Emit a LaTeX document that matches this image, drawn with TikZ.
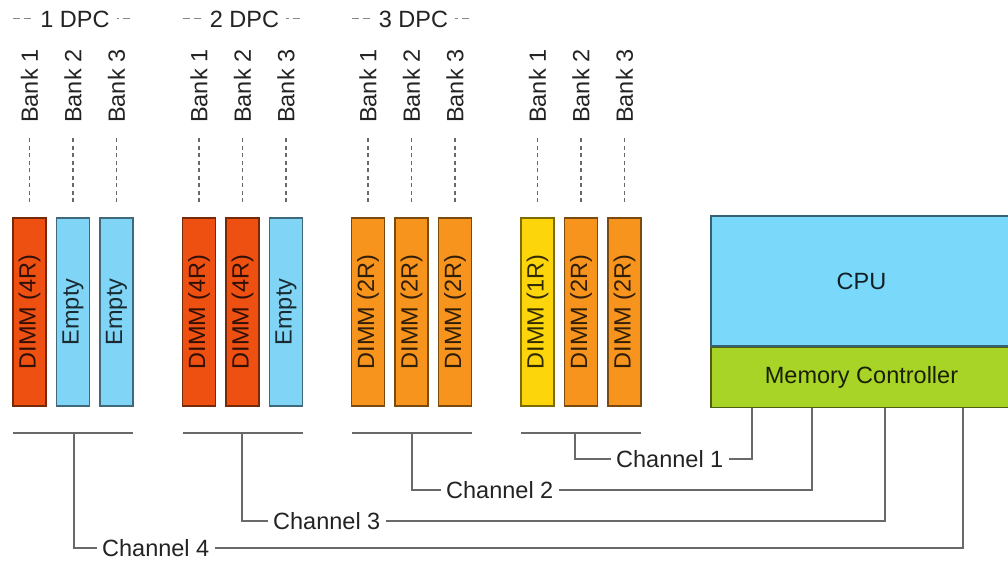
\documentclass[tikz,border=0pt]{standalone}
\usepackage{fontspec}
\setmainfont{Liberation Sans}

\definecolor{rankfour}{RGB}{238,80,18}
\definecolor{emptyslot}{RGB}{128,212,246}
\definecolor{ranktwo}{RGB}{247,148,30}
\definecolor{rankone}{RGB}{252,214,10}
\definecolor{cpublue}{RGB}{122,216,250}
\definecolor{mcgreen}{RGB}{168,212,40}
\definecolor{wire}{RGB}{105,105,105}
\definecolor{ink}{RGB}{35,35,35}

\tikzset{
  lbl/.style={font=\fontsize{23.5}{28}\selectfont, text=ink},
  slot/.style={lbl, draw=#1!50!black, fill=#1, text=#1!20!black, rotate=90,
    minimum width=188, minimum height=33, inner sep=0, line width=1.3},
  banklbl/.style={lbl, rotate=90, anchor=west, inner sep=0},
  bankguide/.style={draw=wire, line width=1.1, dash pattern=on 4 off 3.5},
  dpcguide/.style={draw=wire!80, line width=1.1, dash pattern=on 7 off 4},
  dpclbl/.style={lbl, fill=white, inner xsep=7, inner ysep=2},
  wireline/.style={draw=wire, line width=1.4},
  chlbl/.style={lbl, anchor=west, inner xsep=5, inner ysep=1},
  block/.style={lbl, draw=#1!45!black, fill=#1, text=#1!15!black,
    line width=1.3, inner sep=0, minimum width=301},
}

\begin{document}
\begin{tikzpicture}[x=1pt, y=-1pt]
  \useasboundingbox (0,0) rectangle (1008,562);
  \clip (0,0) rectangle (1008,562);

  % memory slots: three per channel, one column per bank
  \foreach \g/\gx/\fa/\fb/\fc/\ta/\tb/\tc in {
      1/13/rankfour/emptyslot/emptyslot/DIMM (4R)/Empty/Empty,
      2/182.5/rankfour/rankfour/emptyslot/DIMM (4R)/DIMM (4R)/Empty,
      3/351.5/ranktwo/ranktwo/ranktwo/DIMM (2R)/DIMM (2R)/DIMM (2R),
      4/521/rankone/ranktwo/ranktwo/DIMM (1R)/DIMM (2R)/DIMM (2R)} {
    \node[slot=\fa] (s\g1) at (\gx+16.5,312) {\ta};
    \node[slot=\fb] (s\g2) at (\gx+60,312) {\tb};
    \node[slot=\fc] (s\g3) at (\gx+103.5,312) {\tc};
    \foreach \s in {1,2,3} {
      \node[banklbl] (b\g\s) at (s\g\s |- 0,123) {Bank \s};
      \draw[bankguide, shorten <=15, shorten >=13] (b\g\s.west) -- (s\g\s.east);
    }
    % channel bus under the slot group
    \coordinate (bl\g) at (\gx,433);
    \coordinate (br\g) at (\gx+120,433);
    \draw[wireline] (bl\g) -- (br\g);
  }

  % DIMMs-per-channel headings
  \foreach \g/\gx in {1/13, 2/182.5, 3/351.5} {
    \coordinate (dl\g) at (\gx,18.3);
    \coordinate (dr\g) at (\gx+120,18.3);
    \draw[dpcguide] (dl\g) -- (dr\g);
    \node[dpclbl] (dpc\g) at (\gx+62,19.5) {\g\ DPC};
  }

  % processor and its memory controller
  \node[block=cpublue, minimum height=130] (cpu) at (861.5,281) {CPU};
  \node[block=mcgreen, minimum height=60, anchor=north] (mc) at (cpu.south)
    {Memory Controller};

  % taps on each bus and ports on the controller
  \coordinate (tap1) at (74,433);
  \coordinate (tap2) at (242,433);
  \coordinate (tap3) at (412,433);
  \coordinate (tap4) at (575,433);
  \coordinate (port1) at (752,0 |- mc.south);
  \coordinate (port2) at (812,0 |- mc.south);
  \coordinate (port3) at (885,0 |- mc.south);
  \coordinate (port4) at (963,0 |- mc.south);

  \node[chlbl] (ch1) at (611,459) {Channel 1};
  \node[chlbl] (ch2) at (441,490) {Channel 2};
  \node[chlbl] (ch3) at (268,521) {Channel 3};
  \node[chlbl] (ch4) at (97,548) {Channel 4};

  \draw[wireline] (tap4) |- (ch1.west);
  \draw[wireline] (ch1.east) -| (port1);
  \draw[wireline] (tap3) |- (ch2.west);
  \draw[wireline] (ch2.east) -| (port2);
  \draw[wireline] (tap2) |- (ch3.west);
  \draw[wireline] (ch3.east) -| (port3);
  \draw[wireline] (tap1) |- (ch4.west);
  \draw[wireline] (ch4.east) -| (port4);
\end{tikzpicture}
\end{document}
